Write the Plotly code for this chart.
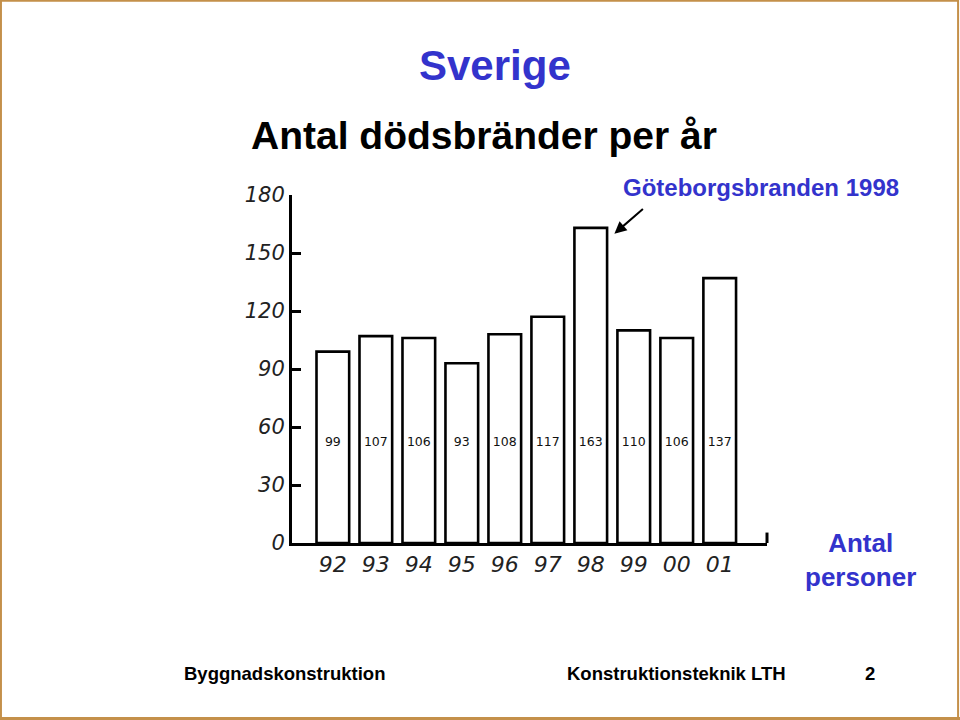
import plotly.graph_objects as go

years = ["92", "93", "94", "95", "96", "97", "98", "99", "00", "01"]
deaths = [99, 107, 106, 93, 108, 117, 163, 110, 106, 137]
y_ticks = [0, 30, 60, 90, 120, 150, 180]
label_y = 52

BLUE = "#3333CC"
BORDER = "#C4904A"
W, H = 960, 720

def px_x(p):
    return p / W

def px_y(p):
    return 1 - p / H

idx = list(range(len(years)))

fig = go.Figure()
fig.add_trace(go.Bar(
    x=idx, y=deaths, width=0.76,
    marker=dict(color="white", line=dict(color="black", width=2.6)),
    hoverinfo="skip",
))
fig.add_trace(go.Scatter(
    x=idx, y=[label_y] * len(idx), mode="text",
    text=[str(v) for v in deaths],
    textfont=dict(family="DejaVu Sans", size=12.5, color="#111"),
    hoverinfo="skip",
))

fig.update_layout(
    width=W, height=H,
    margin=dict(l=0, r=0, t=0, b=0, pad=0, autoexpand=False),
    paper_bgcolor="white", plot_bgcolor="white",
    showlegend=False,
    xaxis=dict(
        domain=[px_x(292), px_x(767)],
        range=[-0.95, 10.1],
        automargin=False,
        tickmode="array", tickvals=idx, ticktext=years,
        showgrid=False, zeroline=False,
        showline=True, linecolor="black", linewidth=3,
        ticks="", ticklabelstandoff=0,
        tickfont=dict(family="DejaVu Sans", size=22, color="#222", style="italic", weight=300),
    ),
    yaxis=dict(
        domain=[px_y(543), px_y(195)],
        range=[0, 180],
        automargin=False,
        tickmode="array", tickvals=y_ticks,
        showgrid=False, zeroline=False,
        showline=True, linecolor="black", linewidth=3,
        ticks="inside", ticklen=9, tickwidth=2.5, tickcolor="black",
        ticklabelstandoff=0,
        tickfont=dict(family="DejaVu Sans", size=21, color="#222", style="italic", weight=300),
    ),
)

# end tick on the x axis
fig.add_shape(type="line", xref="x domain", yref="y domain",
              x0=1, x1=1, y0=0, y1=0.03, line=dict(color="black", width=3))

# slide border
fig.add_shape(type="rect", xref="paper", yref="paper", x0=0.001, y0=0.002, x1=0.998, y1=0.999,
              line=dict(color=BORDER, width=2))
fig.add_shape(type="line", xref="paper", yref="paper", x0=0, y0=0.002, x1=1, y1=0.002,
              line=dict(color=BORDER, width=3))

ann = [
    dict(text="<b>Sverige</b>", x=px_x(495), y=px_y(65), font=dict(family="Liberation Sans", size=42, color=BLUE)),
    dict(text="<b>Antal dödsbränder per år</b>", x=px_x(484), y=px_y(135),
         font=dict(family="Liberation Sans", size=39, color="black")),
    dict(text="<b>Göteborgsbranden 1998</b>", x=px_x(761), y=px_y(188),
         font=dict(family="Liberation Sans", size=24, color=BLUE)),
    dict(text="<b>Antal<br>personer</b>", x=px_x(860), y=px_y(560),
         font=dict(family="Liberation Sans", size=26, color=BLUE)),
    dict(text="<b>Byggnadskonstruktion</b>", x=px_x(284), y=px_y(673),
         font=dict(family="Liberation Sans", size=18.5, color="black")),
    dict(text="<b>Konstruktionsteknik LTH</b>", x=px_x(676), y=px_y(673),
         font=dict(family="Liberation Sans", size=18.5, color="black")),
    dict(text="<b>2</b>", x=px_x(870), y=px_y(673),
         font=dict(family="Liberation Sans", size=18.5, color="black")),
]
for a in ann:
    fig.add_annotation(xref="paper", yref="paper", showarrow=False,
                       xanchor="center", yanchor="middle", **a)

# arrow pointing at the 1998 bar
fig.add_annotation(x=6.55, y=160, xref="x", yref="y", ax=30, ay=-26,
                   showarrow=True, arrowhead=2, arrowsize=1.2, arrowwidth=2,
                   arrowcolor="black", text="")

fig.write_html(
    "out.html",
    config={"displayModeBar": False},
    post_script="document.body.style.margin='0';document.body.style.overflow='hidden';",
)
